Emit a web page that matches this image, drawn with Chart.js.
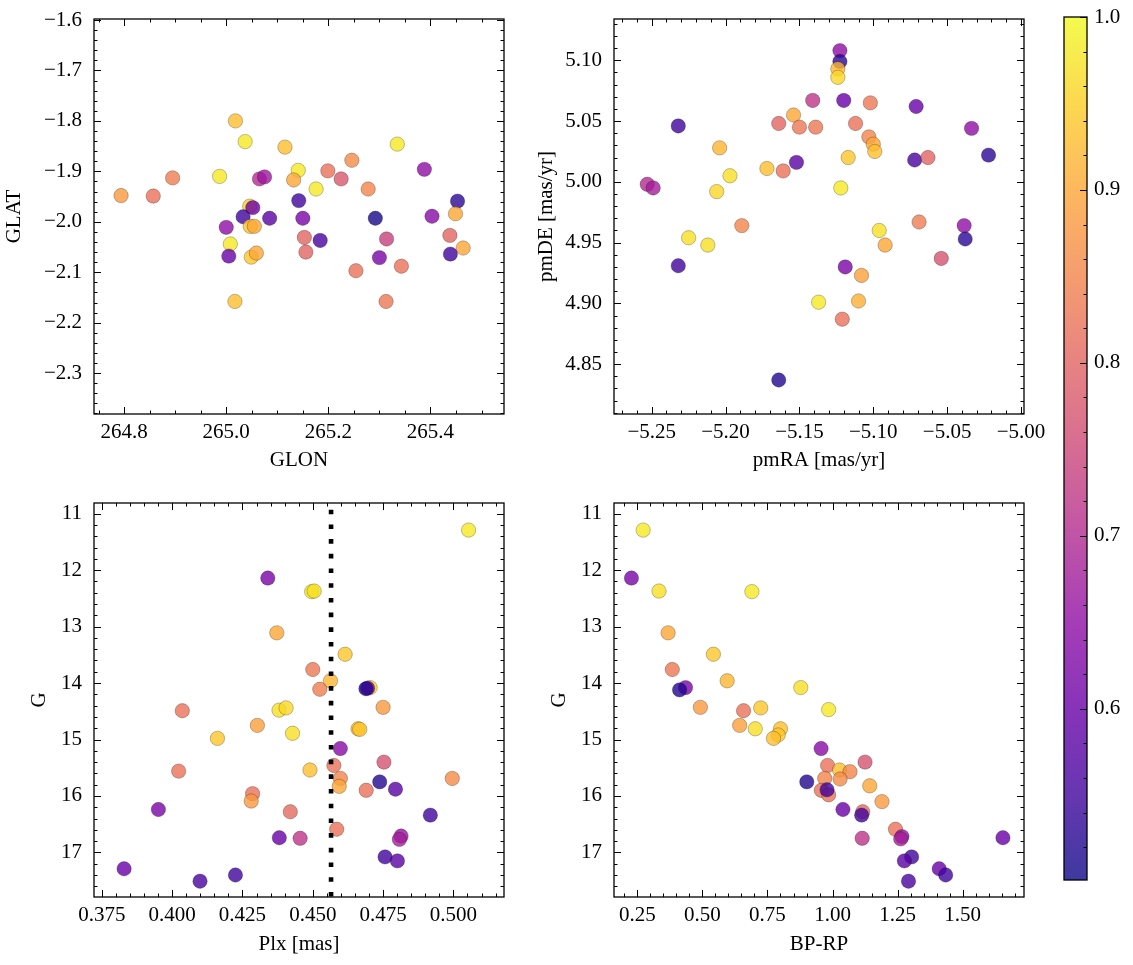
<!DOCTYPE html>
<html>
<head>
<meta charset="utf-8">
<script src="https://cdn.jsdelivr.net/npm/chart.js@4.4.0/dist/chart.umd.min.js"></script>
<style>
  body { margin: 0; background: #fff; width: 1133px; height: 965px; position: relative; overflow: hidden; }
  .box { position: absolute; }
</style>
</head>
<body>
<div class="box" style="left:0;top:0"><canvas id="sky" width="540" height="490"></canvas></div>
<div class="box" style="left:520px;top:0"><canvas id="pm" width="545" height="490"></canvas></div>
<div class="box" style="left:0;top:490px"><canvas id="plx" width="540" height="475"></canvas></div>
<div class="box" style="left:520px;top:490px"><canvas id="cmd" width="545" height="475"></canvas></div>
<div class="box" style="left:1040px;top:0"><canvas id="cbar" width="93" height="900"></canvas></div>
<script>
// membership probability colours (plasma), colorbar range
const probMin = 0.501
const probMax = 1.0

// top left: GLON / GLAT
const glon = [265.018, 265.037, 265.115, 265.335, 265.246, 265.388, 265.141, 265.199, 264.895, 264.987,
  265.065, 265.075, 265.132, 265.225, 265.176, 265.278, 264.794, 264.857, 265.142, 265.453,
  265.046, 265.052, 265.033, 265.085, 265.150, 265.292, 265.403, 265.449, 265.000, 265.047,
  265.055, 265.153, 265.184, 265.314, 265.438, 265.008, 265.156, 265.464, 265.005, 265.049,
  265.059, 265.300, 265.439, 265.254, 265.343, 265.017, 265.313]
const glat = [-1.800, -1.841, -1.852, -1.846, -1.878, -1.896, -1.898, -1.899, -1.913, -1.910,
  -1.915, -1.911, -1.917, -1.915, -1.935, -1.935, -1.948, -1.949, -1.958, -1.959,
  -1.969, -1.972, -1.990, -1.993, -1.993, -1.993, -1.989, -1.984, -2.011, -2.009,
  -2.009, -2.031, -2.037, -2.034, -2.027, -2.044, -2.060, -2.052, -2.068, -2.070,
  -2.062, -2.071, -2.064, -2.097, -2.088, -2.158, -2.158]
const probSky = [0.93, 0.98, 0.93, 0.98, 0.86, 0.65, 0.98, 0.82, 0.84, 0.98,
  0.70, 0.67, 0.90, 0.78, 0.98, 0.85, 0.88, 0.82, 0.55, 0.53,
  0.95, 0.60, 0.55, 0.58, 0.62, 0.51, 0.64, 0.90, 0.65, 0.94,
  0.90, 0.80, 0.56, 0.74, 0.80, 0.98, 0.80, 0.90, 0.60, 0.94,
  0.90, 0.62, 0.55, 0.82, 0.82, 0.93, 0.83]

// top right: proper motions
const pmra = [-5.1226, -5.1226, -5.124, -5.124, -5.141, -5.120, -5.102, -5.071, -5.154, -5.232,
  -5.164, -5.150, -5.139, -5.112, -5.0335, -5.103, -5.100, -5.099, -5.204, -5.117,
  -5.022, -5.072, -5.063, -5.152, -5.172, -5.161, -5.197, -5.206, -5.122, -5.253,
  -5.249, -5.189, -5.069, -5.0385, -5.0378, -5.096, -5.092, -5.225, -5.212, -5.054,
  -5.232, -5.119, -5.108, -5.137, -5.110, -5.121, -5.164]
const pmde = [5.108, 5.099, 5.093, 5.086, 5.067, 5.067, 5.065, 5.062, 5.055, 5.046,
  5.048, 5.045, 5.045, 5.048, 5.044, 5.037, 5.031, 5.025, 5.028, 5.020,
  5.022, 5.018, 5.020, 5.016, 5.011, 5.009, 5.005, 4.992, 4.995, 4.998,
  4.995, 4.964, 4.967, 4.964, 4.953, 4.960, 4.948, 4.954, 4.948, 4.937,
  4.931, 4.930, 4.923, 4.901, 4.902, 4.887, 4.837]
const probPm = [0.65, 0.53, 0.92, 0.96, 0.72, 0.60, 0.83, 0.60, 0.90, 0.55,
  0.80, 0.83, 0.83, 0.82, 0.65, 0.85, 0.90, 0.93, 0.92, 0.94,
  0.53, 0.56, 0.80, 0.58, 0.93, 0.82, 0.97, 0.96, 0.98, 0.70,
  0.68, 0.85, 0.84, 0.65, 0.53, 0.97, 0.90, 0.97, 0.97, 0.77,
  0.55, 0.62, 0.89, 0.98, 0.91, 0.82, 0.52]

// bottom left: parallax / G
const plx = [0.5054, 0.4340, 0.4496, 0.4505, 0.4372, 0.4615, 0.4500, 0.4563, 0.4525, 0.4704,
  0.4695, 0.4689, 0.4036, 0.4380, 0.4405, 0.4750, 0.4303, 0.4161, 0.4428, 0.4661,
  0.4667, 0.4598, 0.4575, 0.4753, 0.4023, 0.4490, 0.4598, 0.4594, 0.4996, 0.4738,
  0.4690, 0.4794, 0.4286, 0.4281, 0.3951, 0.4420, 0.4918, 0.4585, 0.4381, 0.4455,
  0.4814, 0.4808, 0.4757, 0.4801, 0.3829, 0.4099, 0.4225]
const gPlx = [11.29, 12.14, 12.38, 12.37, 13.11, 13.49, 13.76, 13.96, 14.11, 14.08,
  14.09, 14.10, 14.49, 14.48, 14.44, 14.43, 14.75, 14.98, 14.89, 14.81,
  14.82, 15.16, 15.46, 15.40, 15.56, 15.54, 15.69, 15.83, 15.69, 15.75,
  15.90, 15.88, 15.96, 16.09, 16.24, 16.28, 16.34, 16.59, 16.74, 16.75,
  16.71, 16.77, 17.08, 17.15, 17.29, 17.51, 17.40]
const probPlx = [0.98, 0.62, 0.98, 0.97, 0.90, 0.94, 0.83, 0.92, 0.84, 0.96,
  0.62, 0.52, 0.82, 0.97, 0.96, 0.88, 0.89, 0.94, 0.97, 0.93,
  0.94, 0.64, 0.82, 0.77, 0.82, 0.93, 0.85, 0.90, 0.86, 0.52,
  0.82, 0.58, 0.82, 0.88, 0.62, 0.81, 0.55, 0.82, 0.60, 0.72,
  0.66, 0.68, 0.55, 0.58, 0.60, 0.56, 0.55]
const plxCut = 0.4565

// bottom right: colour-magnitude
const bprp = [0.272, 0.227, 0.333, 0.690, 0.368, 0.542, 0.384, 0.595, 0.435, 0.412,
  0.878, 0.492, 0.658, 0.724, 0.985, 0.643, 0.703, 0.800, 0.791, 0.773,
  0.956, 0.981, 1.125, 1.027, 1.067, 0.970, 1.029, 0.901, 1.143, 0.957,
  0.985, 0.979, 1.190, 1.040, 1.116, 1.112, 1.242, 1.114, 1.267, 1.262,
  1.655, 1.304, 1.276, 1.410, 1.435, 1.292]
const gCmd = [11.29, 12.14, 12.37, 12.38, 13.11, 13.49, 13.76, 13.96, 14.08, 14.12,
  14.08, 14.43, 14.49, 14.44, 14.47, 14.75, 14.81, 14.81, 14.92, 14.98,
  15.16, 15.46, 15.40, 15.54, 15.57, 15.69, 15.70, 15.75, 15.82, 15.90,
  15.98, 15.89, 16.10, 16.24, 16.28, 16.34, 16.59, 16.75, 16.72, 16.76,
  16.74, 17.08, 17.15, 17.29, 17.40, 17.51]
const probCmd = [0.98, 0.62, 0.97, 0.98, 0.90, 0.94, 0.83, 0.92, 0.62, 0.52,
  0.97, 0.88, 0.82, 0.94, 0.98, 0.89, 0.97, 0.93, 0.94, 0.93,
  0.64, 0.82, 0.77, 0.93, 0.85, 0.85, 0.86, 0.52, 0.90, 0.82,
  0.82, 0.55, 0.88, 0.60, 0.81, 0.55, 0.82, 0.72, 0.66, 0.68,
  0.60, 0.55, 0.58, 0.60, 0.55, 0.56]

// tick values and labels
const glonTicks = [264.8, 265.0, 265.2, 265.4]
const glonLabels = ['264.8', '265.0', '265.2', '265.4']
const glatTicks = [-1.6, -1.7, -1.8, -1.9, -2.0, -2.1, -2.2, -2.3]
const glatLabels = ['\u22121.6', '\u22121.7', '\u22121.8', '\u22121.9', '\u22122.0', '\u22122.1', '\u22122.2', '\u22122.3']
const pmraTicks = [-5.25, -5.20, -5.15, -5.10, -5.05, -5.00]
const pmraLabels = ['\u22125.25', '\u22125.20', '\u22125.15', '\u22125.10', '\u22125.05', '\u22125.00']
const pmdeTicks = [4.85, 4.90, 4.95, 5.00, 5.05, 5.10]
const pmdeLabels = ['4.85', '4.90', '4.95', '5.00', '5.05', '5.10']
const plxTicks = [0.375, 0.400, 0.425, 0.450, 0.475, 0.500]
const plxLabels = ['0.375', '0.400', '0.425', '0.450', '0.475', '0.500']
const gTicks = [11, 12, 13, 14, 15, 16, 17]
const gLabels = ['11', '12', '13', '14', '15', '16', '17']
const bprpTicks = [0.25, 0.50, 0.75, 1.00, 1.25, 1.50]
const bprpLabels = ['0.25', '0.50', '0.75', '1.00', '1.25', '1.50']
const cbTicks = [0.6, 0.7, 0.8, 0.9, 1.0]
const cbLabels = ['0.6', '0.7', '0.8', '0.9', '1.0']

// plasma colormap anchors
const plasmaStops = [[13, 8, 135], [65, 4, 157], [106, 0, 168], [143, 13, 164], [177, 42, 144],
  [204, 71, 120], [225, 100, 98], [242, 132, 75], [252, 166, 54], [252, 206, 37], [240, 249, 33]]

function plasma(t, alpha) {
  t = Math.min(1, Math.max(0, t)) * 10
  const i = Math.min(9, Math.floor(t))
  const f = t - i
  const a = plasmaStops[i], b = plasmaStops[i + 1]
  const c = a.map((v, k) => Math.round(v + (b[k] - v) * f))
  return `rgba(${c[0]},${c[1]},${c[2]},${alpha})`
}

function probColor(p) {
  return plasma((p - probMin) / (probMax - probMin), 0.8)
}

Chart.defaults.font.family = '"Liberation Serif", "DejaVu Serif", serif'
Chart.defaults.font.size = 21
Chart.defaults.color = '#000'
Chart.defaults.animation = false

// matplotlib-like frame with inward major/minor ticks
const frameTicks = {
  id: 'frameTicks',
  afterDatasetsDraw(chart, args, opts) {
    const { ctx, chartArea: a } = chart
    ctx.save()
    ctx.strokeStyle = '#000'
    const sides = opts.sides || ['top', 'bottom', 'left', 'right']
    const ticksFor = (scale, minor) => {
      const out = []
      if (!scale) return out
      const lo = Math.min(scale.min, scale.max), hi = Math.max(scale.min, scale.max)
      if (minor) {
        for (let k = Math.ceil(lo / minor - 1e-6); k <= Math.floor(hi / minor + 1e-6); k++) out.push([k * minor, 3.5])
      }
      scale.ticks.forEach(t => out.push([t.value, 7]))
      return out
    }
    const xs = chart.scales.x, ys = chart.scales.y
    ctx.lineWidth = 1
    if (xs && xs.options.display !== false) {
      ticksFor(xs, opts.xMinor).forEach(([v, len]) => {
        const px = Math.round(xs.getPixelForValue(v)) + 0.5
        if (px < a.left || px > a.right) return
        ctx.beginPath()
        if (sides.includes('bottom')) { ctx.moveTo(px, a.bottom); ctx.lineTo(px, a.bottom - len) }
        if (sides.includes('top')) { ctx.moveTo(px, a.top); ctx.lineTo(px, a.top + len) }
        ctx.stroke()
      })
    }
    ticksFor(ys, opts.yMinor).forEach(([v, len]) => {
      const py = Math.round(ys.getPixelForValue(v)) + 0.5
      if (py < a.top || py > a.bottom) return
      ctx.beginPath()
      if (sides.includes('left')) { ctx.moveTo(a.left, py); ctx.lineTo(a.left + len, py) }
      if (sides.includes('right')) { ctx.moveTo(a.right, py); ctx.lineTo(a.right - len, py) }
      ctx.stroke()
    })
    ctx.lineWidth = 1.3
    ctx.strokeRect(a.left, a.top, a.right - a.left, a.bottom - a.top)
    ctx.restore()
  }
}

function axis(opts) {
  const isX = opts.pos === 'bottom'
  return {
    type: 'linear',
    position: opts.pos,
    min: opts.min,
    max: opts.max,
    reverse: !!opts.reverse,
    bounds: 'data',
    grid: { display: false, drawTicks: false },
    border: { display: false },
    afterBuildTicks: s => { s.ticks = opts.ticks.map(v => ({ value: v })) },
    afterFit: s => {
      if (isX) { s.height = opts.size; s.paddingLeft = 0; s.paddingRight = 0 }
      else { s.width = opts.size; s.paddingTop = 0; s.paddingBottom = 0 }
    },
    ticks: {
      padding: opts.tickPad,
      maxRotation: 0,
      autoSkip: false,
      callback: (v, i) => opts.labels[i]
    },
    title: opts.title ? {
      display: true,
      text: opts.title,
      font: { size: 21 },
      padding: isX ? { top: 0, bottom: opts.titlePad } : { top: opts.titlePad, bottom: 0 }
    } : { display: false }
  }
}

function scatterSet(xv, yv, prob) {
  return {
    type: 'scatter',
    order: 1,
    data: xv.map((x, i) => ({ x: x, y: yv[i] })),
    pointRadius: 7.2,
    pointBackgroundColor: prob.map(probColor),
    pointBorderColor: 'rgba(0,0,0,0.35)',
    pointBorderWidth: 0.7
  }
}

function panel(id, datasets, xAxis, yAxis, pad, minor) {
  return new Chart(document.getElementById(id), {
    type: 'scatter',
    data: { datasets: datasets },
    options: {
      responsive: false,
      events: [],
      layout: { padding: pad },
      plugins: { legend: { display: false }, tooltip: { enabled: false }, frameTicks: minor },
      scales: { x: xAxis, y: yAxis }
    },
    plugins: [frameTicks]
  })
}

panel('sky', [scatterSet(glon, glat, probSky)],
  axis({ pos: 'bottom', min: 264.741, max: 265.544, ticks: glonTicks, labels: glonLabels, size: 76, tickPad: 6, title: 'GLON', titlePad: 17 }),
  axis({ pos: 'left', min: -2.381, max: -1.598, ticks: glatTicks, labels: glatLabels, size: 94, tickPad: 12, title: 'GLAT', titlePad: 2 }),
  { top: 19, right: 36, bottom: 0, left: 0 }, { xMinor: 0.05, yMinor: 0.02 })

panel('pm', [scatterSet(pmra, pmde, probPm)],
  axis({ pos: 'bottom', min: -5.2755, max: -4.998, ticks: pmraTicks, labels: pmraLabels, size: 76, tickPad: 6, title: 'pmRA [mas/yr]', titlePad: 17 }),
  axis({ pos: 'left', min: 4.809, max: 5.134, ticks: pmdeTicks, labels: pmdeLabels, size: 94, tickPad: 12, title: 'pmDE [mas/yr]', titlePad: 14 }),
  { top: 19, right: 41, bottom: 0, left: 0 }, { xMinor: 0.01, yMinor: 0.01 })

const cutLine = {
  type: 'line',
  order: 0,
  data: [{ x: plxCut, y: 10.81 }, { x: plxCut, y: 17.79 }],
  borderColor: '#000',
  borderWidth: 4.6,
  borderDash: [4.6, 10.1],
  borderDashOffset: 8,
  pointRadius: 0,
  fill: false
}

panel('plx', [cutLine, scatterSet(plx, gPlx, probPlx)],
  axis({ pos: 'bottom', min: 0.3722, max: 0.518, ticks: plxTicks, labels: plxLabels, size: 68, tickPad: 6, title: 'Plx [mas]', titlePad: 8 }),
  axis({ pos: 'left', min: 10.81, max: 17.79, reverse: true, ticks: gTicks, labels: gLabels, size: 94, tickPad: 12, title: 'G', titlePad: 27 }),
  { top: 13, right: 36, bottom: 0, left: 0 }, { xMinor: 0.005, yMinor: 0.2 })

panel('cmd', [scatterSet(bprp, gCmd, probCmd)],
  axis({ pos: 'bottom', min: 0.160, max: 1.736, ticks: bprpTicks, labels: bprpLabels, size: 68, tickPad: 6, title: 'BP-RP', titlePad: 8 }),
  axis({ pos: 'left', min: 10.81, max: 17.79, reverse: true, ticks: gTicks, labels: gLabels, size: 94, tickPad: 12, title: 'G', titlePad: 27 }),
  { top: 13, right: 41, bottom: 0, left: 0 }, { xMinor: 0.05, yMinor: 0.2 })

// colorbar: one floating bar filled with the colormap gradient
new Chart(document.getElementById('cbar'), {
  type: 'bar',
  data: {
    labels: ['prob'],
    datasets: [{
      data: [[probMin, probMax]],
      barPercentage: 1,
      categoryPercentage: 1,
      borderWidth: 0,
      backgroundColor: c => {
        const ch = c.chart
        if (!ch.chartArea) return 'rgba(0,0,0,0)'
        const y = ch.scales.y
        const g = ch.ctx.createLinearGradient(0, y.getPixelForValue(probMin), 0, y.getPixelForValue(probMax))
        for (let i = 0; i <= 20; i++) g.addColorStop(i / 20, plasma(i / 20, 0.8))
        return g
      }
    }]
  },
  options: {
    responsive: false,
    events: [],
    layout: { padding: { top: 17, bottom: 20, left: 24, right: 0 } },
    plugins: { legend: { display: false }, tooltip: { enabled: false }, frameTicks: { sides: ['right'], yMinor: 0.02 } },
    scales: {
      x: { display: false },
      y: axis({ pos: 'right', min: probMin, max: probMax, ticks: cbTicks, labels: cbLabels, size: 46, tickPad: 7 })
    }
  },
  plugins: [frameTicks]
})
</script>
</body>
</html>
